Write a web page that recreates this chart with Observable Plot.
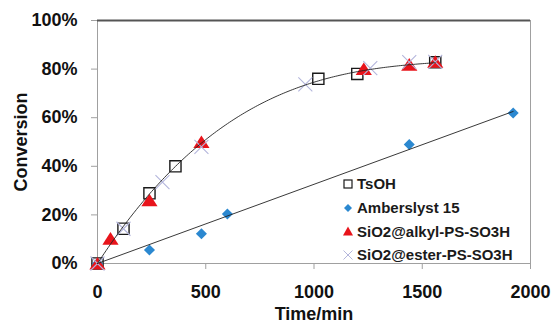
<!DOCTYPE html>
<html>
<head>
<meta charset="utf-8">
<script src="https://cdn.jsdelivr.net/npm/d3@7"></script>
<script src="https://cdn.jsdelivr.net/npm/@observablehq/plot@0.6"></script>
<style>
  html, body { margin: 0; padding: 0; background: #fff; }
  #wrap { position: relative; width: 552px; height: 325px; font-family: "Liberation Sans", Arial, sans-serif; }
  #legend { position: absolute; left: 341px; top: 172px; font-weight: bold; font-size: 15px; color: #1a1a1a; }
  #legend .row { height: 23.7px; display: flex; align-items: center; white-space: nowrap; }
  #legend svg { width: 14px; height: 14px; margin-right: 2px; }
</style>
</head>
<body>
<div id="wrap"><div id="legend"></div></div>
<script>
// ---- data (time in min, conversion as fraction) ----
const seriesNames = ["TsOH", "Amberslyst 15", "SiO2@alkyl-PS-SO3H", "SiO2@ester-PS-SO3H"];

const tsohTime = [0, 120, 240, 360, 1020, 1200, 1560];
const tsohConv = [0, 0.143, 0.289, 0.40, 0.76, 0.78, 0.828];

const amberTime = [0, 240, 480, 600, 1440, 1920];
const amberConv = [0, 0.056, 0.122, 0.204, 0.49, 0.619];

const alkylTime = [0, 60, 240, 480, 1230, 1440, 1560];
const alkylConv = [0, 0.102, 0.26, 0.50, 0.80, 0.818, 0.83];

const esterTime = [0, 120, 300, 480, 960, 1260, 1440, 1560];
const esterConv = [0, 0.143, 0.335, 0.48, 0.737, 0.804, 0.829, 0.83];

const xTicks = [0, 500, 1000, 1500, 2000];
const yTicks = [0, 0.2, 0.4, 0.6, 0.8, 1.0];

// ---- build tables ----
const zip = (t, c) => t.map((x, i) => ({t: x, c: c[i]}));
const tsoh = zip(tsohTime, tsohConv);
const amber = zip(amberTime, amberConv);
const alkyl = zip(alkylTime, alkylConv);
const ester = zip(esterTime, esterConv);

// cubic trendline through origin fitted to TsOH (least squares)
function polyFitNoIntercept(xs, ys, deg) {
  const n = deg;
  const A = Array.from({length: n}, () => Array(n).fill(0));
  const b = Array(n).fill(0);
  xs.forEach((x0, k) => {
    const x = x0 / 1000;
    for (let i = 0; i < n; i++) {
      b[i] += Math.pow(x, i + 1) * ys[k];
      for (let j = 0; j < n; j++) A[i][j] += Math.pow(x, i + 1) * Math.pow(x, j + 1);
    }
  });
  for (let i = 0; i < n; i++) {
    let p = i;
    for (let r = i + 1; r < n; r++) if (Math.abs(A[r][i]) > Math.abs(A[p][i])) p = r;
    [A[i], A[p]] = [A[p], A[i]]; [b[i], b[p]] = [b[p], b[i]];
    for (let r = i + 1; r < n; r++) {
      const f = A[r][i] / A[i][i];
      for (let c = i; c < n; c++) A[r][c] -= f * A[i][c];
      b[r] -= f * b[i];
    }
  }
  const coef = Array(n).fill(0);
  for (let i = n - 1; i >= 0; i--) {
    let s = b[i];
    for (let c = i + 1; c < n; c++) s -= A[i][c] * coef[c];
    coef[i] = s / A[i][i];
  }
  return x0 => { const x = x0 / 1000; return coef.reduce((s, a, i) => s + a * Math.pow(x, i + 1), 0); };
}
const cubic = polyFitNoIntercept(tsohTime, tsohConv, 3);
const tMax = d3.max(tsohTime);
const curve = d3.range(0, tMax + 1, 10).map(t => ({t, c: cubic(t)}));

// linear trendline through origin for Amberlyst
const slope = d3.sum(amber, d => d.t * d.c) / d3.sum(amber, d => d.t * d.t);
const amberLine = [0, d3.max(amberTime)].map(t => ({t, c: slope * t}));

// custom symbols
const diamond = {draw(ctx, size) { const s = Math.sqrt(size / 2); ctx.moveTo(0, -s); ctx.lineTo(s, 0); ctx.lineTo(0, s); ctx.lineTo(-s, 0); ctx.closePath(); }};
const tri = {draw(ctx, size) { const r = Math.sqrt(size / Math.PI); const w = r * 1.35, h = r * 1.05; ctx.moveTo(0, -h * 1.05); ctx.lineTo(w, h * 0.95); ctx.lineTo(-w, h * 0.95); ctx.closePath(); }};
const cross = {draw(ctx, size) { const r = Math.sqrt(size / Math.PI); ctx.moveTo(-r, -r); ctx.lineTo(r, r); ctx.moveTo(r, -r); ctx.lineTo(-r, r); }};

const colors = {sq: "#1a1a1a", blue: "#2b88d0", red: "#e8141b", x: "#b4b6dc"};

const plot = Plot.plot({
  width: 552,
  height: 325,
  marginLeft: 97,
  marginRight: 22,
  marginTop: 20,
  marginBottom: 62,
  style: {fontFamily: "'Liberation Sans', Arial, sans-serif", fontSize: "18px", fontWeight: "bold", color: "#111", background: "#fff"},
  x: {domain: [0, 2000]},
  y: {domain: [0, 1]},
  marks: [
    Plot.frame({stroke: "#a0a0a0"}),
    Plot.ruleY([1], {stroke: "#555", strokeWidth: 2}),
    Plot.axisX({ticks: xTicks, tickSize: 6, tickPadding: 16, stroke: "#a0a0a0", tickFormat: d3.format("d"), label: "Time/min", labelAnchor: "center", labelArrow: "none", labelOffset: 56}),
    Plot.axisY({ticks: yTicks, tickSize: 6, tickPadding: 14, stroke: "#a0a0a0", tickFormat: d3.format(".0%"), label: "Conversion", labelAnchor: "center", labelArrow: "none", labelOffset: 83}),
    Plot.dot(tsoh, {x: "t", y: "c", symbol: "square", r: 6.3, stroke: colors.sq, strokeWidth: 1.4, fill: "none"}),
    Plot.dot(amber, {x: "t", y: "c", symbol: diamond, r: 4.4, fill: colors.blue, stroke: "none"}),
    Plot.dot(alkyl, {x: "t", y: "c", symbol: tri, r: 6, fill: colors.red, stroke: "none"}),
    Plot.dot(ester, {x: "t", y: "c", symbol: cross, r: 7, stroke: colors.x, strokeWidth: 1.1, fill: "none"}),
    Plot.line(curve, {x: "t", y: "c", stroke: "#222", strokeWidth: 0.9}),
    Plot.line(amberLine, {x: "t", y: "c", stroke: "#222", strokeWidth: 0.9})
  ]
});
document.getElementById("wrap").prepend(plot);

// legend (HTML)
const legendSyms = [
  `<rect x="3" y="3" width="8" height="8" fill="none" stroke="${colors.sq}" stroke-width="1.2"/>`,
  `<path d="M7,3 L11,7 L7,11 L3,7 Z" fill="${colors.blue}"/>`,
  `<path d="M7,2.5 L12,11.5 L2,11.5 Z" fill="${colors.red}"/>`,
  `<path d="M2.5,2.5 L11.5,11.5 M11.5,2.5 L2.5,11.5" stroke="${colors.x}" stroke-width="1"/>`
];
const leg = document.getElementById("legend");
seriesNames.forEach((name, i) => {
  const row = document.createElement("div");
  row.className = "row";
  row.innerHTML = `<svg viewBox="0 0 14 14">${legendSyms[i]}</svg><span>${name}</span>`;
  leg.appendChild(row);
});
</script>
</body>
</html>
